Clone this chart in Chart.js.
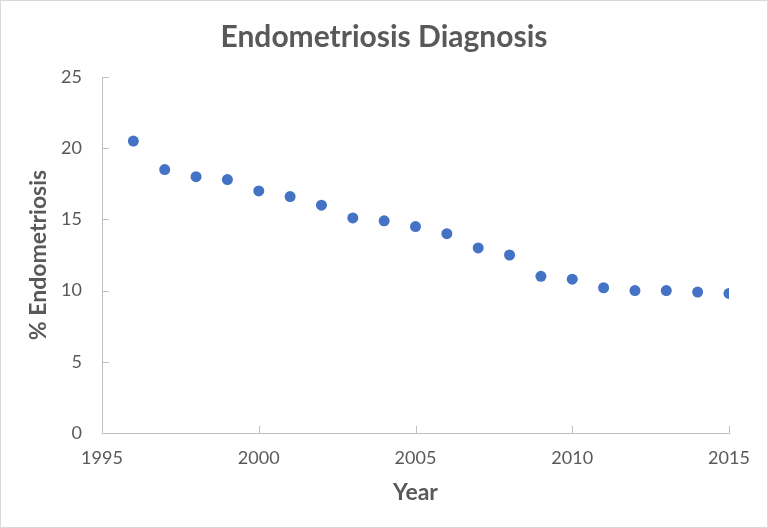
<!DOCTYPE html>
<html>
<head>
<meta charset="utf-8">
<script src="https://cdn.jsdelivr.net/npm/chart.js@4"></script>
<style>
  html, body { margin: 0; padding: 0; background: #fff; }
  #wrap { width: 768px; height: 528px; position: relative; }
</style>
</head>
<body>
<div id="wrap"><canvas id="c" width="768" height="528"></canvas></div>
<script>
const years = [1996,1997,1998,1999,2000,2001,2002,2003,2004,2005,2006,2007,2008,2009,2010,2011,2012,2013,2014,2015];
const pctEndometriosis = [20.5,18.5,18.0,17.8,17.0,16.6,16.0,15.1,14.9,14.5,14.0,13.0,12.5,11.0,10.8,10.2,10.0,10.0,9.9,9.8];
const xTicks = [1995,2000,2005,2010,2015];
const yTicks = [0,5,10,15,20,25];

const FONT = 'Lato, "Open Sans", sans-serif';
const GREY = '#595959';
const AXIS = '#bfbfbf';

const bgBorder = {
  id: 'bgBorder',
  beforeDraw(chart) {
    const ctx = chart.ctx;
    ctx.save();
    ctx.fillStyle = '#fff';
    ctx.fillRect(0, 0, chart.width, chart.height);
    ctx.strokeStyle = '#d9d9d9';
    ctx.lineWidth = 1;
    ctx.strokeRect(0.5, 0.5, chart.width - 1, chart.height - 1);
    ctx.restore();
  }
};

const innerTicks = {
  id: 'innerTicks',
  beforeDatasetsDraw(chart) {
    const ctx = chart.ctx;
    const xs = chart.scales.x, ys = chart.scales.y;
    const ca = chart.chartArea;
    ctx.save();
    ctx.strokeStyle = AXIS;
    ctx.lineWidth = 1;
    ctx.beginPath();
    yTicks.forEach(v => {
      const y = Math.round(ys.getPixelForValue(v)) + 0.5;
      ctx.moveTo(ca.left, y);
      ctx.lineTo(ca.left + 7, y);
    });
    xTicks.forEach(v => {
      const x = Math.round(xs.getPixelForValue(v)) + 0.5;
      ctx.moveTo(x, ca.bottom);
      ctx.lineTo(x, ca.bottom - 7);
    });
    ctx.stroke();
    ctx.restore();
  }
};

new Chart(document.getElementById('c'), {
  type: 'scatter',
  data: {
    datasets: [{
      label: '% Endometriosis',
      data: years.map((y, i) => ({ x: y, y: pctEndometriosis[i] })),
      backgroundColor: '#4472C4',
      borderColor: '#4472C4',
      pointRadius: 5.5,
      pointHoverRadius: 5.5,
      borderWidth: 0
    }]
  },
  options: {
    responsive: false,
    animation: false,
    devicePixelRatio: 1,
    layout: { padding: { left: 0, right: 0, top: 0, bottom: 0 } },
    plugins: {
      legend: { display: false },
      tooltip: { enabled: false },
      title: {
        display: true,
        text: 'Endometriosis Diagnosis',
        color: GREY,
        font: { family: FONT, size: 30, weight: 'bold' },
        padding: { top: 19, bottom: 22 }
      }
    },
    scales: {
      x: {
        type: 'linear',
        min: 1995, max: 2015,
        afterBuildTicks(scale) { scale.ticks = xTicks.map(v => ({ value: v })); },
        afterFit(scale) { scale.height = 95; },
        grid: { display: false, drawTicks: false },
        border: { display: true, color: AXIS, width: 1 },
        ticks: {
          color: GREY,
          font: { family: FONT, size: 18 },
          padding: 14,
          maxRotation: 0,
          callback: v => String(v)
        },
        title: {
          display: true,
          text: 'Year',
          color: GREY,
          font: { family: FONT, size: 23, weight: 'bold' },
          padding: { top: 0, bottom: 22 }
        }
      },
      y: {
        type: 'linear',
        min: 0, max: 25,
        afterBuildTicks(scale) { scale.ticks = yTicks.map(v => ({ value: v })); },
        afterFit(scale) { scale.width = 102; },
        grid: { display: false, drawTicks: false },
        border: { display: true, color: AXIS, width: 1 },
        ticks: {
          color: GREY,
          font: { family: FONT, size: 18 },
          padding: 20
        },
        title: {
          display: true,
          text: '% Endometriosis',
          color: GREY,
          font: { family: FONT, size: 23, weight: 'bold' },
          padding: { top: 25, bottom: 0 }
        }
      },
      yRight: {
        type: 'linear',
        position: 'right',
        min: 0, max: 25,
        afterFit(scale) { scale.width = 39; },
        grid: { display: false, drawTicks: false },
        border: { display: false },
        ticks: { display: false }
      }
    }
  },
  plugins: [bgBorder, innerTicks]
});
</script>
</body>
</html>
